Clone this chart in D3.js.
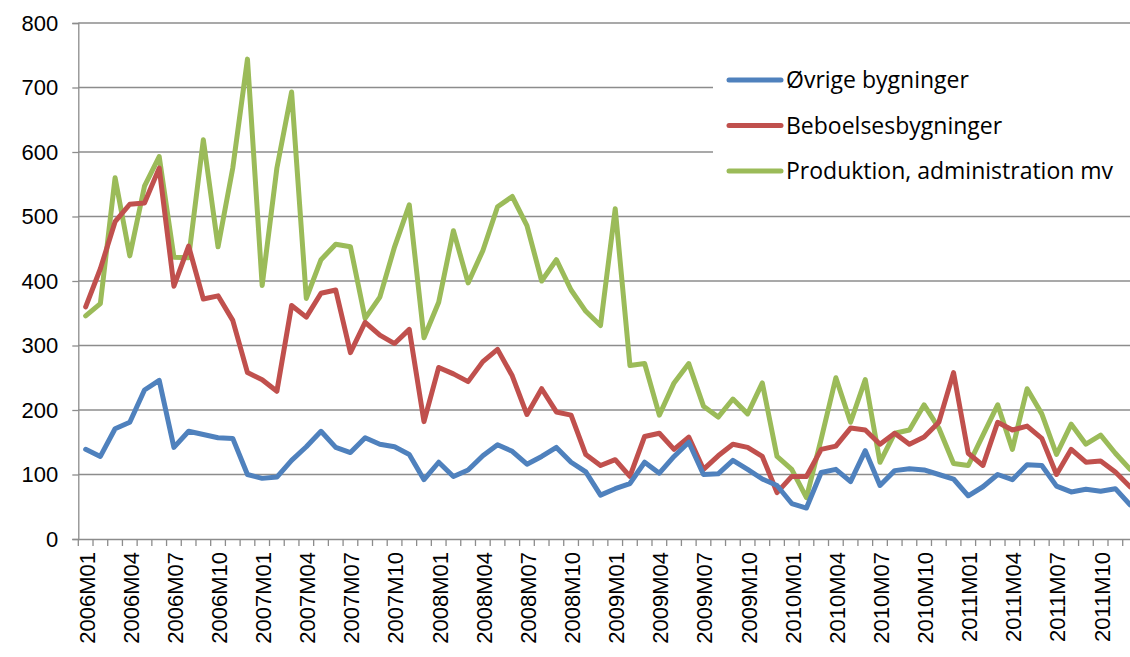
<!DOCTYPE html>
<html><head><meta charset="utf-8">
<script src="https://cdn.jsdelivr.net/npm/d3@7"></script>
<style>body{margin:0;background:#fff}svg{display:block}</style>
</head><body>
<script>
const years = [2006, 2007, 2008, 2009, 2010, 2011];
const months = ["01","02","03","04","05","06","07","08","09","10","11","12"];
const categories = years.flatMap(y => months.map(m => y + "M" + m));
const seriesNames = ["Øvrige bygninger", "Beboelsesbygninger", "Produktion, administration mv"];
const ovrige = [139,128,171,181,231,246,142,167,162,157,156,100,94,96,122,143,167,142,134,157,147,143,131,92,119,97,107,129,146,136,116,128,142,119,104,68,78,86,119,102,128,150,100,101,122,108,93,83,55,48,103,108,89,137,83,106,109,107,100,93,67,81,100,92,115,114,82,73,77,74,78,53];
const beboelse = [360,419,492,519,521,575,392,454,372,377,339,258,247,229,362,344,381,386,289,336,316,303,325,182,266,256,244,275,294,253,193,233,197,192,131,114,123,97,159,164,139,158,108,129,147,142,128,72,97,97,139,144,172,169,147,164,147,158,181,258,133,114,181,169,175,156,100,139,119,121,104,81];
const produktion = [346,365,560,439,547,593,437,436,619,453,575,744,393,575,693,373,433,457,453,342,375,453,518,312,367,478,397,447,515,531,486,400,433,386,353,331,512,269,272,192,242,272,206,189,217,194,242,128,108,64,155,250,181,247,119,164,169,208,172,117,114,161,208,139,233,194,131,178,147,161,133,108];
const colors = ["#4F81BD", "#C0504D", "#9BBB59"];
const yTicks = [0,100,200,300,400,500,600,700,800];

const W = 1130, H = 657;
const mLeft = 78.3, mTop = 23, plotH = 516, band = 14.71;
const svg = d3.select("body").append("svg").attr("width", W).attr("height", H);

const x = d3.scaleBand().domain(categories).range([mLeft, mLeft + band * categories.length]).padding(0);
const y = d3.scaleLinear().domain([0, 800]).range([mTop + plotH, mTop]);

// gridlines
svg.append("g").selectAll("line").data(yTicks.filter(d => d > 0)).join("line")
  .attr("x1", mLeft).attr("x2", x.range()[1])
  .attr("y1", d => y(d)).attr("y2", d => y(d))
  .attr("stroke", "#8c8c8c").attr("stroke-width", 1.3);

// y axis
const yAxis = svg.append("g").attr("transform", `translate(${mLeft},0)`)
  .call(d3.axisLeft(y).tickValues(yTicks).tickSize(6).tickPadding(8));
yAxis.select(".domain").attr("stroke", "#8c8c8c").attr("stroke-width", 1.3);
yAxis.selectAll(".tick line").attr("stroke", "#8c8c8c").attr("stroke-width", 1.3);
yAxis.selectAll("text").attr("font-family", "Liberation Sans, Arial, sans-serif").attr("font-size", 22).attr("fill", "#000").attr("dx", -6);

// x axis
const xAxis = svg.append("g").attr("transform", `translate(0,${y(0)})`)
  .call(d3.axisBottom(x).tickValues([]).tickSizeOuter(0));
xAxis.select(".domain").attr("stroke", "#8c8c8c").attr("stroke-width", 1.3);
svg.append("g").selectAll("line").data(d3.range(categories.length + 1)).join("line")
  .attr("x1", i => mLeft + i * x.bandwidth()).attr("x2", i => mLeft + i * x.bandwidth())
  .attr("y1", y(0)).attr("y2", y(0) + 7)
  .attr("stroke", "#8c8c8c").attr("stroke-width", 1.3);
svg.append("g").selectAll("text").data(categories.filter((c, i) => i % 3 === 0)).join("text")
  .attr("transform", d => `translate(${x(d) + x.bandwidth() / 2 + 1},${y(0) + 13}) rotate(-90)`)
  .attr("text-anchor", "end").attr("dy", "0.36em")
  .attr("font-family", "Liberation Sans, Arial, sans-serif").attr("font-size", 22).attr("fill", "#000")
  .text(d => d);

// legend background
const lgX = 713, lgY = 42;
svg.append("rect").attr("x", lgX).attr("y", lgY).attr("width", W - lgX).attr("height", 162).attr("fill", "#fff");

// lines
const allSeries = [ovrige, beboelse, produktion];
const line = d3.line().x((d, i) => x(categories[i]) + x.bandwidth() / 2).y(d => y(d));
[2, 1, 0].forEach(k => {
  svg.append("path").datum(allSeries[k]).attr("d", line)
    .attr("fill", "none").attr("stroke", colors[k]).attr("stroke-width", 5)
    .attr("stroke-linejoin", "round").attr("stroke-linecap", "round");
});

// legend
const lg = svg.append("g");
seriesNames.forEach((name, k) => {
  const ly = 80 + k * 45.5;
  lg.append("line").attr("x1", 729).attr("x2", 781).attr("y1", ly).attr("y2", ly)
    .attr("stroke", colors[k]).attr("stroke-width", 5).attr("stroke-linecap", "round");
  lg.append("text").attr("x", 786).attr("y", ly).attr("dy", "0.35em")
    .attr("font-family", "Open Sans, sans-serif").attr("font-size", 23).attr("fill", "#000").text(name);
});
</script>
</body></html>
